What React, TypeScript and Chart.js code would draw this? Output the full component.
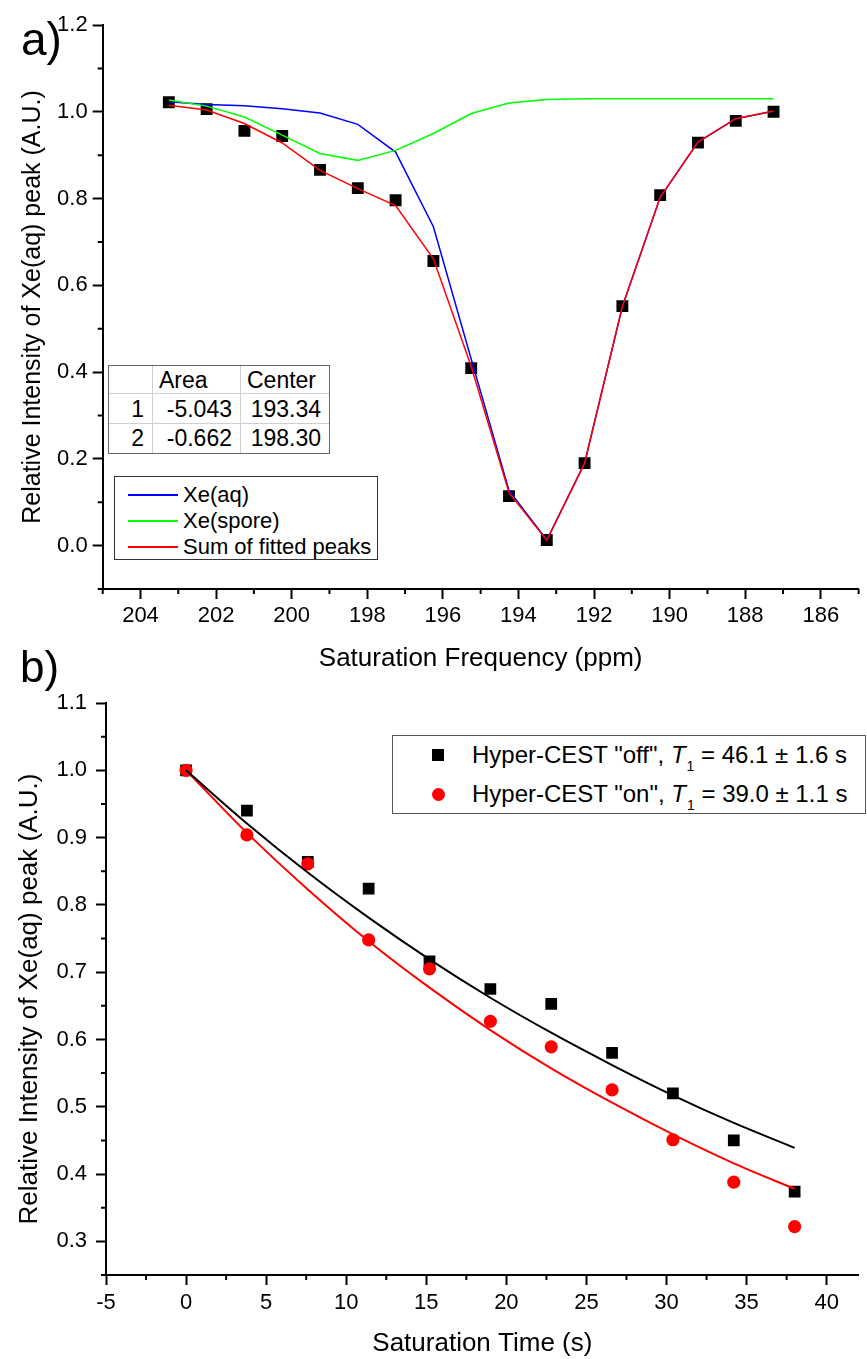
import React, { useEffect, useRef } from 'react';
import { Chart, registerables } from 'chart.js';

Chart.register(...registerables);

const FONT = '"Liberation Sans", Arial, Helvetica, sans-serif';

// ---------- Panel a ----------
const FREQ_PPM = [203.25, 202.25, 201.25, 200.25, 199.25, 198.25, 197.25, 196.25, 195.25, 194.25, 193.25, 192.25, 191.25, 190.25, 189.25, 188.25, 187.25];
const MEASURED_A = [1.022, 1.006, 0.956, 0.944, 0.866, 0.824, 0.796, 0.656, 0.409, 0.114, 0.013, 0.19, 0.552, 0.808, 0.929, 0.979, 1.0];
const FIT_XE_AQ = [1.023, 1.017, 1.014, 1.007, 0.997, 0.971, 0.907, 0.735, 0.43, 0.127, 0.013, 0.19, 0.551, 0.803, 0.93, 0.984, 1.001];
const FIT_XE_SPORE = [1.027, 1.013, 0.988, 0.946, 0.904, 0.888, 0.911, 0.95, 0.996, 1.02, 1.028, 1.03, 1.03, 1.03, 1.03, 1.03, 1.03];
const FIT_SUM = [1.015, 1.004, 0.973, 0.928, 0.865, 0.823, 0.784, 0.661, 0.413, 0.122, 0.012, 0.19, 0.551, 0.803, 0.93, 0.984, 1.002];
const FREQ_TICKS = [204, 202, 200, 198, 196, 194, 192, 190, 188, 186];
const FREQ_MINOR = [205, 203, 201, 199, 197, 195, 193, 191, 189, 187, 185];
const INTENSITY_TICKS_A = [0, 0.2, 0.4, 0.6, 0.8, 1.0, 1.2];
const INTENSITY_MINOR_A = [-0.1, 0.1, 0.3, 0.5, 0.7, 0.9, 1.1];
const TABLE_HEADER = ['', 'Area', 'Center'];
const TABLE_ROWS = [
  ['1', '-5.043', '193.34'],
  ['2', '-0.662', '198.30'],
];
const LEGEND_A = [
  { label: 'Xe(aq)', color: '#0000ff' },
  { label: 'Xe(spore)', color: '#00ff00' },
  { label: 'Sum of fitted peaks', color: '#ff0000' },
];

// ---------- Panel b ----------
const TIME_S = [0, 3.8, 7.6, 11.4, 15.2, 19, 22.8, 26.6, 30.4, 34.2, 38];
const CEST_OFF = [1.0, 0.94, 0.864, 0.824, 0.716, 0.675, 0.653, 0.58, 0.52, 0.45, 0.374];
const CEST_ON = [1.0, 0.904, 0.861, 0.748, 0.705, 0.627, 0.589, 0.525, 0.451, 0.388, 0.322];
const FIT_OFF = [1.0, 0.921, 0.848, 0.781, 0.719, 0.662, 0.61, 0.562, 0.517, 0.476, 0.439];
const FIT_ON = [1.0, 0.907, 0.823, 0.746, 0.677, 0.614, 0.557, 0.506, 0.459, 0.416, 0.378];
const TIME_TICKS = [-5, 0, 5, 10, 15, 20, 25, 30, 35, 40];
const TIME_MINOR = [-2.5, 2.5, 7.5, 12.5, 17.5, 22.5, 27.5, 32.5, 37.5];
const INTENSITY_TICKS_B = [0.3, 0.4, 0.5, 0.6, 0.7, 0.8, 0.9, 1.0, 1.1];
const INTENSITY_MINOR_B = [0.25, 0.35, 0.45, 0.55, 0.65, 0.75, 0.85, 0.95, 1.05];

const Y_TITLE = 'Relative Intensity of Xe(aq) peak (A.U.)';

const pts = (xs: number[], ys: number[]) => xs.map((x, i) => ({ x, y: ys[i] }));

const extrasPlugin = {
  id: 'extras',
  afterDraw(chart: any, _args: any, opts: any) {
    const { ctx } = chart;
    const xs = chart.scales.x;
    const ys = chart.scales.y;
    ctx.save();
    ctx.strokeStyle = '#000';
    ctx.lineWidth = 2;
    ctx.beginPath();
    for (const v of opts.xMinor || []) {
      const px = xs.getPixelForValue(v);
      ctx.moveTo(px, xs.top);
      ctx.lineTo(px, xs.top + 5);
    }
    for (const v of opts.yMinor || []) {
      const py = ys.getPixelForValue(v);
      ctx.moveTo(ys.right, py);
      ctx.lineTo(ys.right - 5, py);
    }
    ctx.stroke();
    ctx.fillStyle = '#000';
    if (opts.label) {
      ctx.font = `${opts.labelSize}px ${FONT}`;
      ctx.textAlign = 'left';
      ctx.textBaseline = 'alphabetic';
      ctx.fillText(opts.label, opts.labelX, opts.labelY);
    }
    if (opts.yTitle) {
      ctx.save();
      ctx.font = `${opts.yTitle.size}px ${FONT}`;
      ctx.textAlign = 'center';
      ctx.textBaseline = 'middle';
      ctx.translate(opts.yTitle.x, opts.yTitle.y);
      ctx.rotate(-Math.PI / 2);
      ctx.fillText(opts.yTitle.text, 0, 0);
      ctx.restore();
    }
    ctx.restore();
  },
};

function axis(ticksArr: number[], fmt: (v: number) => string, extra: any) {
  return {
    type: 'linear',
    afterBuildTicks: (s: any) => {
      s.ticks = ticksArr.map((v) => ({ value: v }));
    },
    ticks: {
      callback: (v: any) => fmt(Number(v)),
      font: { family: FONT, size: 22 },
      color: '#000',
      autoSkip: false,
      maxRotation: 0,
      minRotation: 0,
      padding: extra.tickPadding,
    },
    grid: {
      display: true,
      drawOnChartArea: false,
      drawTicks: true,
      tickLength: 10,
      tickWidth: 2,
      tickColor: '#000',
    },
    border: { display: true, color: '#000', width: 2 },
    title: {
      display: !!extra.title,
      text: extra.title || '',
      color: '#000',
      font: { family: FONT, size: extra.titleSize },
      padding: extra.titlePadding,
    },
    ...extra.rest,
  };
}

function TopChart() {
  const ref = useRef<HTMLCanvasElement | null>(null);
  useEffect(() => {
    if (!ref.current) return;
    const chart = new Chart(ref.current, {
      type: 'line',
      data: {
        datasets: [
          {
            label: 'Sum of fitted peaks',
            data: pts(FREQ_PPM, FIT_SUM),
            borderColor: '#ff0000',
            borderWidth: 1.5,
            pointRadius: 0,
            tension: 0,
            fill: false,
            order: 0,
          },
          {
            label: 'Xe(spore)',
            data: pts(FREQ_PPM, FIT_XE_SPORE),
            borderColor: '#00ff00',
            borderWidth: 1.5,
            pointRadius: 0,
            tension: 0,
            fill: false,
            order: 1,
          },
          {
            label: 'Xe(aq)',
            data: pts(FREQ_PPM, FIT_XE_AQ),
            borderColor: '#0000ff',
            borderWidth: 1.5,
            pointRadius: 0,
            tension: 0,
            fill: false,
            order: 2,
          },
          {
            label: 'Measured',
            data: pts(FREQ_PPM, MEASURED_A),
            showLine: false,
            pointStyle: 'rect',
            pointRadius: 8.4,
            pointBorderWidth: 0,
            backgroundColor: '#000',
            borderColor: '#000',
            order: 3,
          },
        ],
      },
      options: {
        animation: false,
        responsive: false,
        devicePixelRatio: 1,
        layout: { padding: { left: 0, top: 25, right: 6.3, bottom: 0 } },
        plugins: {
          legend: { display: false },
          tooltip: { enabled: false },
          extras: {
            xMinor: FREQ_MINOR,
            yMinor: INTENSITY_MINOR_A,
            label: 'a)',
            labelSize: 46,
            labelX: 21,
            labelY: 55,
          },
        } as any,
        scales: {
          x: axis(FREQ_TICKS, (v) => String(v), {
            tickPadding: 4,
            title: 'Saturation Frequency (ppm)',
            titleSize: 26,
            titlePadding: { top: 0, bottom: 6 },
            rest: {
              reverse: true,
              min: 185,
              max: 205,
              afterFit: (s: any) => {
                s.height = 91;
              },
            },
          }),
          y: axis(INTENSITY_TICKS_A, (v) => v.toFixed(1), {
            tickPadding: 5,
            title: Y_TITLE,
            titleSize: 25,
            titlePadding: { top: 18, bottom: 0 },
            rest: {
              min: -0.1,
              max: 1.2,
              afterFit: (s: any) => {
                s.width = 102.7;
              },
            },
          }),
        } as any,
      },
      plugins: [extrasPlugin],
    } as any);
    return () => chart.destroy();
  }, []);
  return (
    <canvas
      ref={ref}
      width={867}
      height={680}
      style={{ position: 'absolute', left: 0, top: 0, width: 867, height: 680 }}
    />
  );
}

function BottomChart() {
  const ref = useRef<HTMLCanvasElement | null>(null);
  useEffect(() => {
    if (!ref.current) return;
    const chart = new Chart(ref.current, {
      type: 'line',
      data: {
        datasets: [
          {
            label: 'Fit off',
            data: pts(TIME_S, FIT_OFF),
            borderColor: '#000',
            borderWidth: 2,
            pointRadius: 0,
            cubicInterpolationMode: 'monotone',
            fill: false,
            order: 0,
          },
          {
            label: 'Fit on',
            data: pts(TIME_S, FIT_ON),
            borderColor: '#ff0000',
            borderWidth: 2,
            pointRadius: 0,
            cubicInterpolationMode: 'monotone',
            fill: false,
            order: 0,
          },
          {
            label: 'Hyper-CEST "on"',
            data: pts(TIME_S, CEST_ON),
            showLine: false,
            pointStyle: 'circle',
            pointRadius: 6.6,
            pointBorderWidth: 0,
            backgroundColor: '#ff0000',
            borderColor: '#ff0000',
            order: 1,
          },
          {
            label: 'Hyper-CEST "off"',
            data: pts(TIME_S, CEST_OFF),
            showLine: false,
            pointStyle: 'rect',
            pointRadius: 8.3,
            pointBorderWidth: 0,
            backgroundColor: '#000',
            borderColor: '#000',
            order: 2,
          },
        ],
      },
      options: {
        animation: false,
        responsive: false,
        devicePixelRatio: 1,
        layout: { padding: { left: 0, top: 63, right: 2, bottom: 0 } },
        plugins: {
          legend: { display: false },
          tooltip: { enabled: false },
          extras: {
            xMinor: TIME_MINOR,
            yMinor: INTENSITY_MINOR_B,
            label: 'b)',
            labelSize: 44,
            labelX: 20,
            labelY: 42,
            yTitle: { text: Y_TITLE, size: 26, x: 30, y: 359 },
          },
        } as any,
        scales: {
          x: axis(TIME_TICKS, (v) => String(v), {
            tickPadding: 5,
            title: 'Saturation Time (s)',
            titleSize: 26,
            titlePadding: { top: 0, bottom: 0 },
            rest: {
              min: -5,
              max: 42,
              afterFit: (s: any) => {
                s.height = 84;
              },
            },
          }),
          y: axis(INTENSITY_TICKS_B, (v) => v.toFixed(1), {
            tickPadding: 9,
            title: '',
            titleSize: 26,
            titlePadding: { top: 0, bottom: 0 },
            rest: {
              min: 0.25,
              max: 1.1,
              afterFit: (s: any) => {
                s.width = 106;
              },
            },
          }),
        } as any,
      },
      plugins: [extrasPlugin],
    } as any);
    return () => chart.destroy();
  }, []);
  return (
    <canvas
      ref={ref}
      width={867}
      height={719}
      style={{ position: 'absolute', left: 0, top: 640, width: 867, height: 719 }}
    />
  );
}

function FitTable() {
  const colW = [44, 88, 88];
  const rowH = [28, 30, 29];
  const rows = [TABLE_HEADER, ...TABLE_ROWS];
  return (
    <div
      style={{
        position: 'absolute',
        left: 108,
        top: 365,
        display: 'grid',
        gridTemplateColumns: colW.map((w) => `${w}px`).join(' '),
        gridTemplateRows: rowH.map((h) => `${h}px`).join(' '),
        border: '1px solid #666',
        background: '#fff',
        fontFamily: FONT,
        fontSize: 23,
        color: '#000',
      }}
    >
      {rows.map((r, ri) =>
        r.map((cell, ci) => (
          <div
            key={`${ri}-${ci}`}
            style={{
              boxSizing: 'border-box',
              borderRight: ci < 2 ? '1px solid #cfcfcf' : 'none',
              borderBottom: ri < 2 ? '1px solid #cfcfcf' : 'none',
              lineHeight: `${rowH[ri]}px`,
              textAlign: ri === 0 ? 'left' : 'right',
              paddingLeft: ri === 0 ? 6 : 0,
              paddingRight: ri === 0 ? 0 : 8,
              whiteSpace: 'nowrap',
            }}
          >
            {cell}
          </div>
        ))
      )}
    </div>
  );
}

function LegendA() {
  return (
    <div
      style={{
        position: 'absolute',
        left: 114,
        top: 476,
        width: 264,
        height: 84,
        boxSizing: 'border-box',
        border: '1px solid #333',
        background: '#fff',
        fontFamily: FONT,
        fontSize: 22,
        color: '#000',
      }}
    >
      {LEGEND_A.map((it, i) => (
        <div
          key={it.label}
          style={{ position: 'absolute', left: 0, top: 5 + i * 26, height: 26, width: '100%' }}
        >
          <div
            style={{
              position: 'absolute',
              left: 13,
              top: 12,
              width: 50,
              height: 1.5,
              background: it.color,
            }}
          />
          <div style={{ position: 'absolute', left: 68, top: 0, lineHeight: '26px', whiteSpace: 'nowrap' }}>
            {it.label}
          </div>
        </div>
      ))}
    </div>
  );
}

function LegendB() {
  const items = [
    { kind: 'square', name: 'Hyper-CEST "off", ', t1: '46.1', err: '1.6' },
    { kind: 'circle', name: 'Hyper-CEST "on", ', t1: '39.0', err: '1.1' },
  ];
  return (
    <div
      style={{
        position: 'absolute',
        left: 392,
        top: 735,
        width: 474,
        height: 79,
        boxSizing: 'border-box',
        border: '1.5px solid #555',
        background: '#fff',
        fontFamily: FONT,
        fontSize: 24,
        color: '#000',
      }}
    >
      {items.map((it, i) => (
        <div key={i} style={{ position: 'absolute', left: 0, top: 3 + i * 39, height: 32, width: '100%' }}>
          <div
            style={{
              position: 'absolute',
              left: it.kind === 'square' ? 39 : 38.5,
              top: it.kind === 'square' ? 10 : 9.5,
              width: it.kind === 'square' ? 12 : 13,
              height: it.kind === 'square' ? 12 : 13,
              background: it.kind === 'square' ? '#000' : '#ff0000',
              borderRadius: it.kind === 'square' ? 0 : '50%',
            }}
          />
          <div style={{ position: 'absolute', left: 79, top: 0, lineHeight: '32px', whiteSpace: 'nowrap' }}>
            {it.name}
            <i>T</i>
            <span style={{ fontSize: 14, position: 'relative', top: 8, marginLeft: 1 }}>1</span>
            {` = ${it.t1} \u00B1 ${it.err} s`}
          </div>
        </div>
      ))}
    </div>
  );
}

export default function App() {
  return (
    <div style={{ position: 'absolute', left: 0, top: 0, width: 867, height: 1359, background: '#fff', overflow: 'hidden' }}>
      <TopChart />
      <BottomChart />
      <FitTable />
      <LegendA />
      <LegendB />
    </div>
  );
}
